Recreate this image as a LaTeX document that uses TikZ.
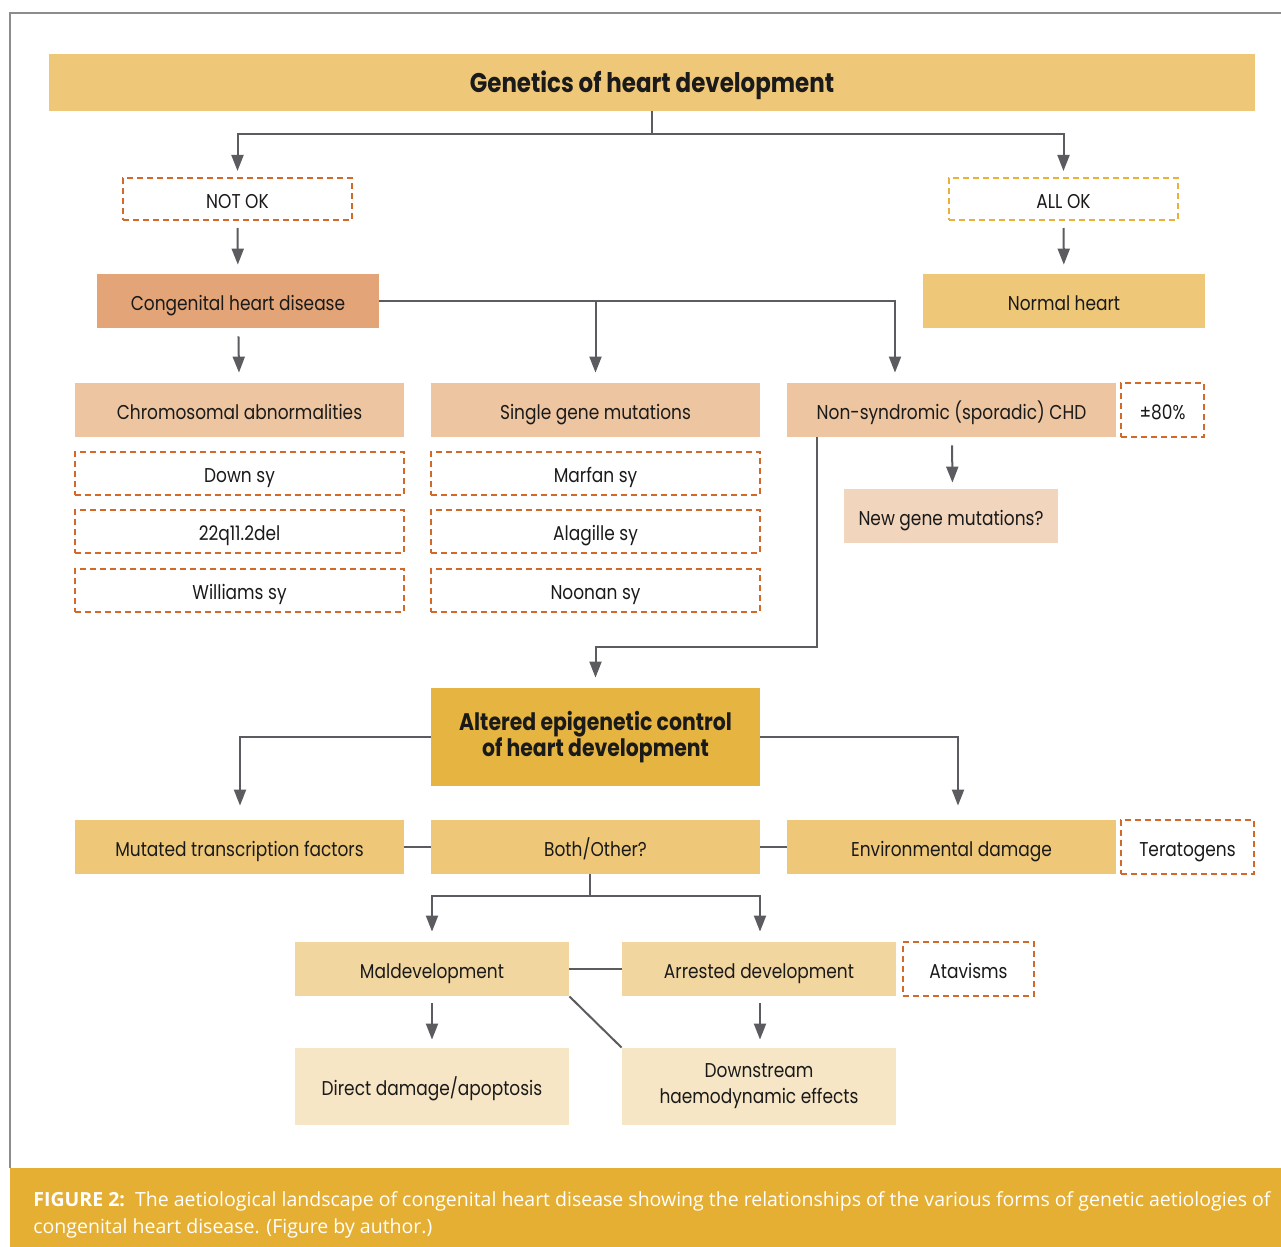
\documentclass[tikz,border=0pt]{standalone}
\usepackage{fontspec}
\setmainfont{Poppins}[FakeStretch=0.85]
\newfontfamily\capfont{Open Sans}
\usetikzlibrary{positioning,arrows.meta,calc}

\definecolor{framegray}{HTML}{8C8C8C}
\definecolor{linegray}{HTML}{5B5B60}
\definecolor{inkdark}{HTML}{1A1A1A}
\definecolor{gold}{HTML}{EEC878}
\definecolor{darkgold}{HTML}{E6B440}
\definecolor{bandgold}{HTML}{E5AF33}
\definecolor{chdorange}{HTML}{E3A577}
\definecolor{salmon}{HTML}{EDC5A0}
\definecolor{lightsalmon}{HTML}{F2D5BD}
\definecolor{palegold}{HTML}{F2D6A0}
\definecolor{cream}{HTML}{F7E6C6}
\definecolor{dashorange}{HTML}{D2692A}
\definecolor{dashyellow}{HTML}{E8B13A}

\tikzset{
  basebox/.style={fill=#1, inner sep=0pt, minimum width=164.5pt, minimum height=27pt,
    text=inkdark, font=\fontsize{10}{13}\selectfont, align=center},
  box/.style={basebox=#1, text height=9pt, text depth=0pt},
  dbox/.style={draw=#1, dash pattern=on 3pt off 2pt, line width=1pt, inner sep=0pt,
    minimum width=164.5pt, minimum height=21.5pt, text=inkdark, font=\fontsize{10}{13}\selectfont,
    text height=9pt, text depth=0pt},
  link/.style={draw=linegray, line width=1pt},
  arrow/.style={link, -{Triangle[width=6pt,length=8pt]}, shorten >=#1},
  arrow/.default=4.5pt
}

\begin{document}
\begin{tikzpicture}[x=0.5pt, y=-0.5pt]
    \useasboundingbox (0,0) rectangle (1281,1247);
    \draw[framegray, line width=1pt] (1281,13) -- (10,13) -- (10,1168);
    \fill[bandgold] (10,1168) rectangle (1281,1247);

    \node[box=gold, minimum width=603pt, minimum height=28.5pt, text height=10.5pt, font=\fontsize{13.5}{15}\selectfont\bfseries] (title) at (652,82.5) {Genetics of heart development};

    \node[dbox=dashorange, minimum width=114.5pt, minimum height=21pt] (notok) at (237.5,199) {NOT OK};
    \node[dbox=dashyellow, minimum width=114.5pt, minimum height=21pt] (allok) at (1063.5,199) {ALL OK};

    \node[box=chdorange, minimum width=141pt] (chd) at (238,301) {Congenital heart disease};
    \node[box=gold, minimum width=141pt] (normal) at (1064,301) {Normal heart};

    \node[box=salmon] (chrom) at (239.5,410) {Chromosomal abnormalities};
    \node[box=salmon] (single) at (595.5,410) {Single gene mutations};
    \node[box=salmon] (nonsyn) at (951.5,410) {Non-syndromic (sporadic) CHD};
    \node[dbox=dashorange, minimum width=41.5pt, minimum height=27pt] (pct) at (1162.5,410) {±80\%};

    \node[dbox=dashorange] (down) at (239.5,473.5) {Down sy};
    \node[dbox=dashorange] (deletion) at (239.5,531.5) {22q11.2del};
    \node[dbox=dashorange] (williams) at (239.5,590.5) {Williams sy};
    \node[dbox=dashorange] (marfan) at (595.5,473.5) {Marfan sy};
    \node[dbox=dashorange] (alagille) at (595.5,531.5) {Alagille sy};
    \node[dbox=dashorange] (noonan) at (595.5,590.5) {Noonan sy};

    \node[box=lightsalmon, minimum width=107pt] (newgene) at (951,516) {New gene mutations?};

    \node[basebox=darkgold, minimum height=49pt, font=\fontsize{12}{13}\selectfont\bfseries] (altered) at (595.5,737) {Altered epigenetic control\\of heart development};

    \node[box=gold] (mtf) at (239.5,847) {Mutated transcription factors};
    \node[box=gold] (both) at (595.5,847) {Both/Other?};
    \node[box=gold] (env) at (951.5,847) {Environmental damage};
    \node[dbox=dashorange, minimum width=66.5pt, minimum height=27pt] (terat) at (1187.5,847) {Teratogens};

    \node[box=palegold, minimum width=137pt] (mal) at (432,969) {Maldevelopment};
    \node[box=palegold, minimum width=137pt] (arrested) at (759,969) {Arrested development};
    \node[dbox=dashorange, minimum width=65.5pt, minimum height=27pt] (atav) at (968.5,969) {Atavisms};

    \node[box=cream, minimum width=137pt, minimum height=38.5pt] (direct) at (432,1086.5) {Direct damage/apoptosis};
    \node[basebox=cream, minimum width=137pt, minimum height=38.5pt] (downstream) at (759,1086.5) {Downstream\\haemodynamic effects};

    % connectors
    \draw[link] (title.south) -- ++(0,23) coordinate (split);
    \draw[arrow=3pt] (split) -| (notok.north);
    \draw[arrow=3pt] (split) -| (allok.north);
    \draw[arrow, shorten <=3.5pt] (notok) -- (chd);
    \draw[arrow, shorten <=3.5pt] (allok) -- (normal);
    \draw[arrow=5pt, shorten <=4pt] (chd) -- (chrom);
    \draw[arrow=5pt] (chd.east) -| ([xshift=-28.25pt]nonsyn.north);
    \draw[arrow=5pt] (single.north |- chd.east) -- (single.north);
    \draw[arrow=3pt, shorten <=4pt] ([xshift=0.25pt]nonsyn.south) -- ([xshift=0.75pt]newgene.north);
    \draw[arrow=5pt] ([xshift=-67.25pt]nonsyn.south) -- ++(0,210) -| (altered.north);
    \draw[arrow=7pt] (altered.west) -| ([xshift=0.25pt]mtf.north);
    \draw[arrow=7pt] (altered.east) -| ([xshift=3.25pt]env.north);
    \draw[link] (mtf) -- (both);
    \draw[link] (both) -- (env);
    \draw[link] ([xshift=-2.75pt]both.south) -- ++(0,22) coordinate (fork);
    \draw[arrow=5pt] (fork) -| (mal.north);
    \draw[arrow=5pt] (fork) -| ([xshift=0.5pt]arrested.north);
    \draw[link] (mal) -- (arrested);
    \draw[arrow=4pt, shorten <=3.5pt] (mal) -- (direct);
    \draw[arrow=4pt, shorten <=3.5pt] ([xshift=0.5pt]arrested.south) -- ([xshift=0.5pt]downstream.north);
    \draw[link] (mal.south east) -- (downstream.north west);

    \node[anchor=west, align=left, text=white, inner sep=0pt, font=\capfont\fontsize{9.75}{13.5}\selectfont] (caption) at (33,1215) {\textbf{FIGURE 2:}\ \ The aetiological landscape of congenital heart disease showing the relationships of the various forms of genetic aetiologies of\\congenital heart disease. (Figure by author.)};
\end{tikzpicture}
\end{document}
